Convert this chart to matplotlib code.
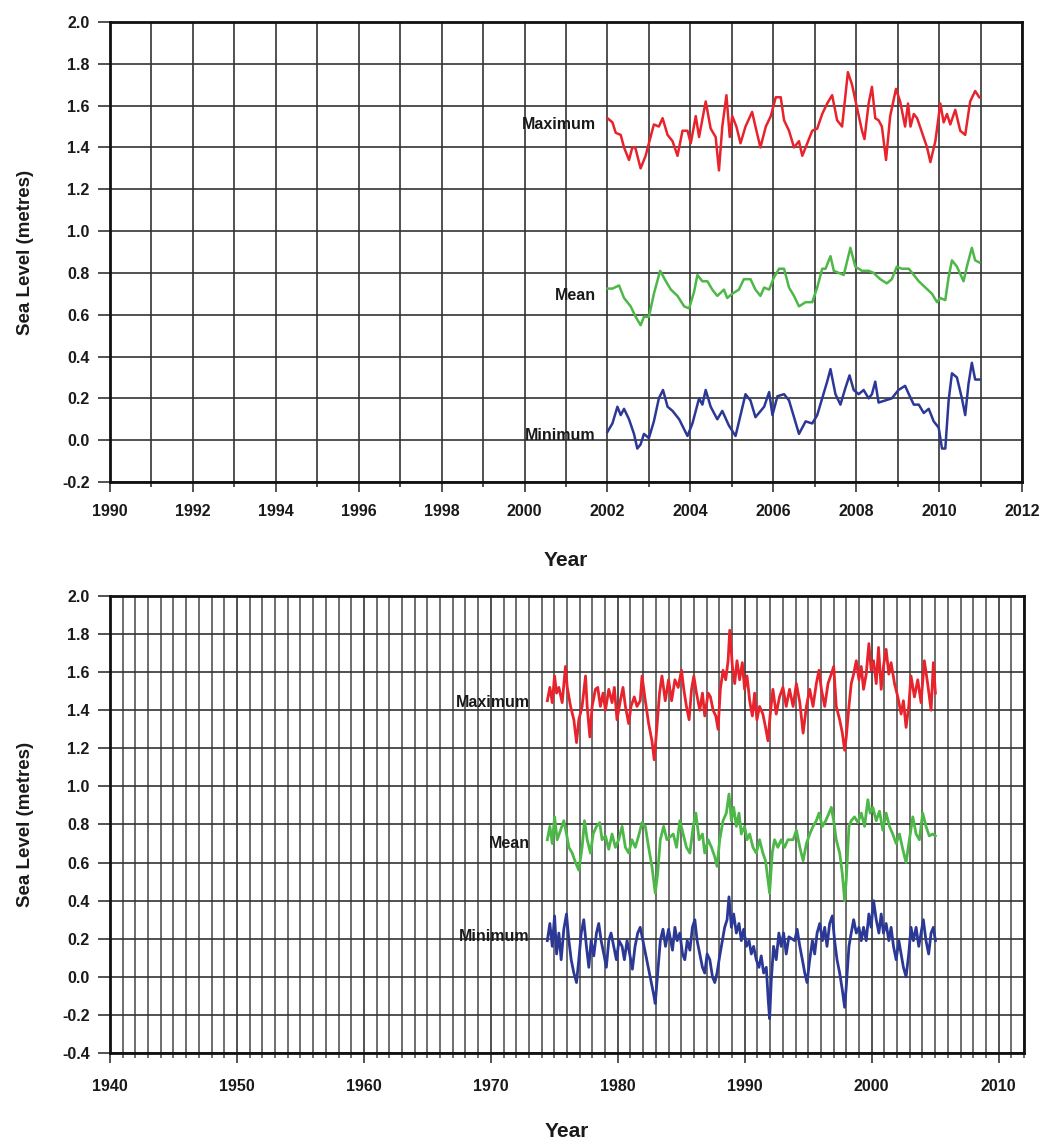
import matplotlib
matplotlib.use("Agg")
import matplotlib.pyplot as plt
from matplotlib.ticker import MultipleLocator

plt.rcParams['font.family'] = ['Liberation Sans', 'DejaVu Sans']

# ---------------- Top panel data (2002-2011) ----------------
top_max_t = [2002.00, 2002.12, 2002.20, 2002.32, 2002.40, 2002.52, 2002.60, 2002.67, 2002.80, 2002.92,
             2003.00, 2003.12, 2003.24, 2003.33, 2003.45, 2003.57, 2003.69, 2003.81, 2003.93, 2004.01,
             2004.13, 2004.21, 2004.37, 2004.49, 2004.61, 2004.69, 2004.77, 2004.87, 2004.95, 2005.01,
             2005.11, 2005.21, 2005.33, 2005.49, 2005.57, 2005.69, 2005.82, 2005.94, 2006.06, 2006.18,
             2006.26, 2006.38, 2006.50, 2006.62, 2006.70, 2006.82, 2006.94, 2007.06, 2007.18, 2007.30,
             2007.42, 2007.54, 2007.66, 2007.80, 2007.90, 2008.02, 2008.14, 2008.20, 2008.30, 2008.38,
             2008.46, 2008.54, 2008.62, 2008.72, 2008.82, 2008.96, 2009.06, 2009.18, 2009.25, 2009.31,
             2009.39, 2009.47, 2009.59, 2009.71, 2009.79, 2009.91, 2010.03, 2010.11, 2010.19, 2010.27,
             2010.39, 2010.51, 2010.63, 2010.75, 2010.87, 2010.97]
top_max_v = [1.54, 1.52, 1.47, 1.46, 1.40, 1.34, 1.40, 1.40, 1.30, 1.36,
             1.42, 1.51, 1.50, 1.54, 1.46, 1.43, 1.36, 1.48, 1.48, 1.42,
             1.55, 1.45, 1.62, 1.49, 1.45, 1.29, 1.50, 1.65, 1.45, 1.55,
             1.50, 1.42, 1.50, 1.57, 1.50, 1.40, 1.50, 1.55, 1.64, 1.64,
             1.53, 1.48, 1.40, 1.43, 1.36, 1.42, 1.48, 1.49, 1.56, 1.61,
             1.65, 1.53, 1.50, 1.76, 1.70, 1.59, 1.48, 1.44, 1.61, 1.69,
             1.54, 1.53, 1.50, 1.34, 1.55, 1.68, 1.62, 1.50, 1.61, 1.50,
             1.56, 1.54, 1.47, 1.40, 1.33, 1.43, 1.61, 1.52, 1.56, 1.51,
             1.58, 1.48, 1.46, 1.62, 1.67, 1.64]

top_mean_t = [2002.00, 2002.12, 2002.28, 2002.40, 2002.56, 2002.68, 2002.80, 2002.88, 2003.00, 2003.12,
              2003.27, 2003.41, 2003.53, 2003.69, 2003.85, 2003.97, 2004.09, 2004.17, 2004.29, 2004.41,
              2004.53, 2004.65, 2004.81, 2004.89, 2005.01, 2005.17, 2005.29, 2005.45, 2005.57, 2005.69,
              2005.78, 2005.90, 2006.02, 2006.14, 2006.26, 2006.38, 2006.50, 2006.62, 2006.78, 2006.94,
              2007.06, 2007.18, 2007.26, 2007.38, 2007.46, 2007.58, 2007.70, 2007.86, 2007.98, 2008.14,
              2008.30, 2008.42, 2008.58, 2008.74, 2008.86, 2008.98, 2009.10, 2009.27, 2009.39, 2009.51,
              2009.67, 2009.83, 2009.95, 2010.03, 2010.15, 2010.23, 2010.31, 2010.43, 2010.59, 2010.67,
              2010.79, 2010.87, 2010.97]
top_mean_v = [0.725, 0.725, 0.74, 0.68, 0.64, 0.59, 0.55, 0.59, 0.59, 0.70,
              0.81, 0.76, 0.72, 0.69, 0.64, 0.63, 0.71, 0.79, 0.76, 0.76,
              0.72, 0.69, 0.72, 0.68, 0.70, 0.72, 0.77, 0.77, 0.72, 0.69,
              0.73, 0.72, 0.78, 0.82, 0.82, 0.73, 0.69, 0.64, 0.66, 0.66,
              0.73, 0.82, 0.82, 0.88, 0.81, 0.80, 0.79, 0.92, 0.83, 0.81,
              0.81, 0.80, 0.77, 0.75, 0.77, 0.83, 0.82, 0.82, 0.79, 0.76,
              0.73, 0.70, 0.66, 0.68, 0.67, 0.78, 0.86, 0.83, 0.76, 0.83,
              0.92, 0.86, 0.85]

top_min_t = [2002.00, 2002.12, 2002.24, 2002.32, 2002.40, 2002.52, 2002.64, 2002.72, 2002.80, 2002.88,
             2003.00, 2003.12, 2003.24, 2003.34, 2003.45, 2003.57, 2003.73, 2003.93, 2004.05, 2004.21,
             2004.29, 2004.37, 2004.49, 2004.65, 2004.77, 2004.93, 2005.09, 2005.21, 2005.33, 2005.45,
             2005.57, 2005.78, 2005.90, 2005.98, 2006.10, 2006.26, 2006.38, 2006.50, 2006.62, 2006.78,
             2006.94, 2007.06, 2007.18, 2007.30, 2007.38, 2007.50, 2007.62, 2007.74, 2007.84, 2007.94,
             2008.06, 2008.18, 2008.30, 2008.38, 2008.46, 2008.54, 2008.70, 2008.86, 2009.02, 2009.18,
             2009.27, 2009.39, 2009.51, 2009.63, 2009.75, 2009.87, 2009.99, 2010.07, 2010.15, 2010.23,
             2010.31, 2010.43, 2010.55, 2010.63, 2010.71, 2010.79, 2010.87, 2010.97]
top_min_v = [0.04, 0.08, 0.16, 0.12, 0.15, 0.10, 0.03, -0.04, -0.02, 0.03,
             0.01, 0.09, 0.20, 0.24, 0.16, 0.14, 0.10, 0.02, 0.08, 0.20,
             0.17, 0.24, 0.16, 0.10, 0.14, 0.07, 0.02, 0.12, 0.22, 0.19,
             0.11, 0.16, 0.23, 0.12, 0.21, 0.22, 0.19, 0.11, 0.03, 0.09,
             0.08, 0.12, 0.20, 0.28, 0.34, 0.22, 0.17, 0.25, 0.31, 0.24,
             0.22, 0.24, 0.20, 0.22, 0.28, 0.18, 0.19, 0.20, 0.24, 0.26,
             0.22, 0.17, 0.17, 0.13, 0.15, 0.09, 0.06, -0.04, -0.04, 0.19,
             0.32, 0.30, 0.20, 0.12, 0.27, 0.37, 0.29, 0.29]

# ---------------- Bottom panel data (1974-2005) ----------------
bot_max_t = [1974.45, 1974.65, 1974.84, 1975.02, 1975.18, 1975.36, 1975.62, 1975.88, 1976.02, 1976.28,
             1976.54, 1976.75, 1976.93, 1977.19, 1977.46, 1977.59, 1977.80, 1977.98, 1978.24, 1978.42,
             1978.63, 1978.84, 1979.03, 1979.29, 1979.55, 1979.73, 1979.94, 1980.20, 1980.41, 1980.60,
             1980.86, 1981.04, 1981.30, 1981.51, 1981.77, 1981.91, 1982.17, 1982.43, 1982.69, 1982.87,
             1983.08, 1983.29, 1983.48, 1983.74, 1984.00, 1984.24, 1984.50, 1984.76, 1985.02, 1985.20,
             1985.41, 1985.62, 1985.81, 1985.99, 1986.20, 1986.46, 1986.67, 1986.85, 1987.12, 1987.30,
             1987.51, 1987.72, 1987.90, 1988.08, 1988.29, 1988.50, 1988.69, 1988.82, 1989.03, 1989.21,
             1989.39, 1989.60, 1989.81, 1989.99, 1990.18, 1990.39, 1990.60, 1990.78, 1990.96, 1991.17,
             1991.43, 1991.64, 1991.83, 1992.01, 1992.22, 1992.48, 1992.74, 1993.01, 1993.27, 1993.53,
             1993.81, 1994.07, 1994.34, 1994.60, 1994.86, 1995.12, 1995.38, 1995.64, 1995.85, 1996.04,
             1996.30, 1996.56, 1996.82, 1997.01, 1997.21, 1997.48, 1997.69, 1997.87, 1998.00, 1998.21,
             1998.39, 1998.58, 1998.79, 1999.00, 1999.18, 1999.36, 1999.57, 1999.78, 1999.96, 2000.15,
             2000.36, 2000.54, 2000.75, 2000.93, 2001.14, 2001.35, 2001.53, 2001.80, 2002.06, 2002.32,
             2002.50, 2002.71, 2002.92, 2003.10, 2003.37, 2003.63, 2003.89, 2004.15, 2004.41, 2004.68,
             2004.86, 2005.02]
bot_max_v = [1.45, 1.52, 1.44, 1.58, 1.49, 1.52, 1.44, 1.63, 1.52, 1.42,
             1.35, 1.23, 1.35, 1.42, 1.58, 1.42, 1.26, 1.42, 1.51, 1.52,
             1.42, 1.49, 1.40, 1.51, 1.44, 1.52, 1.35, 1.45, 1.52, 1.42,
             1.33, 1.42, 1.47, 1.42, 1.45, 1.58, 1.45, 1.33, 1.24, 1.14,
             1.31, 1.49, 1.58, 1.45, 1.56, 1.45, 1.56, 1.52, 1.61, 1.51,
             1.42, 1.35, 1.51, 1.58, 1.49, 1.40, 1.49, 1.37, 1.49, 1.47,
             1.40, 1.37, 1.30, 1.51, 1.61, 1.56, 1.66, 1.82, 1.63, 1.54,
             1.66, 1.56, 1.65, 1.51, 1.58, 1.45, 1.37, 1.49, 1.35, 1.42,
             1.38, 1.31, 1.24, 1.38, 1.51, 1.38, 1.47, 1.52, 1.42, 1.51,
             1.42, 1.54, 1.44, 1.28, 1.42, 1.51, 1.42, 1.54, 1.61, 1.51,
             1.42, 1.54, 1.59, 1.63, 1.42, 1.35, 1.28, 1.19, 1.26, 1.42,
             1.54, 1.59, 1.66, 1.56, 1.63, 1.51, 1.59, 1.75, 1.61, 1.66,
             1.54, 1.73, 1.51, 1.63, 1.72, 1.59, 1.65, 1.54, 1.47, 1.38,
             1.45, 1.31, 1.42, 1.58, 1.47, 1.56, 1.44, 1.66, 1.54, 1.40,
             1.65, 1.49]

bot_mean_t = [1974.45, 1974.65, 1974.84, 1975.02, 1975.23, 1975.49, 1975.75, 1975.96, 1976.15, 1976.41,
              1976.67, 1976.93, 1977.19, 1977.38, 1977.59, 1977.85, 1978.06, 1978.32, 1978.58, 1978.76,
              1979.03, 1979.29, 1979.55, 1979.81, 1980.07, 1980.34, 1980.60, 1980.86, 1981.12, 1981.38,
              1981.64, 1981.91, 1982.17, 1982.43, 1982.69, 1982.95, 1983.14, 1983.35, 1983.61, 1983.87,
              1984.37, 1984.63, 1984.89, 1985.15, 1985.41, 1985.68, 1985.94, 1986.15, 1986.41, 1986.67,
              1986.85, 1987.12, 1987.38, 1987.64, 1987.82, 1988.03, 1988.29, 1988.55, 1988.76, 1988.95,
              1989.13, 1989.34, 1989.55, 1989.73, 1989.99, 1990.18, 1990.39, 1990.65, 1990.91, 1991.17,
              1991.43, 1991.64, 1991.83, 1991.96, 1992.17, 1992.35, 1992.61, 1992.87, 1993.14, 1993.40,
              1993.81, 1994.07, 1994.34, 1994.60, 1994.86, 1995.12, 1995.38, 1995.64, 1995.85, 1996.12,
              1996.38, 1996.64, 1996.82, 1997.01, 1997.21, 1997.48, 1997.69, 1997.87, 1998.00, 1998.21,
              1998.39, 1998.65, 1998.92, 1999.18, 1999.44, 1999.70, 1999.88, 2000.09, 2000.36, 2000.62,
              2000.88, 2001.14, 2001.40, 2001.66, 2001.93, 2002.19, 2002.45, 2002.71, 2002.97, 2003.24,
              2003.50, 2003.76, 2004.02, 2004.28, 2004.54, 2004.81, 2005.02]
bot_mean_v = [0.72, 0.79, 0.70, 0.84, 0.72, 0.77, 0.82, 0.75, 0.68, 0.65,
              0.60, 0.56, 0.68, 0.82, 0.72, 0.65, 0.75, 0.79, 0.81, 0.72,
              0.74, 0.67, 0.75, 0.68, 0.72, 0.79, 0.68, 0.65, 0.72, 0.68,
              0.74, 0.81, 0.79, 0.68, 0.58, 0.44, 0.54, 0.72, 0.79, 0.72,
              0.75, 0.68, 0.82, 0.75, 0.68, 0.65, 0.79, 0.86, 0.72, 0.75,
              0.65, 0.72, 0.68, 0.63, 0.58, 0.72, 0.82, 0.86, 0.96, 0.82,
              0.89, 0.79, 0.86, 0.75, 0.79, 0.72, 0.75, 0.68, 0.65, 0.72,
              0.65, 0.61, 0.51, 0.44, 0.65, 0.72, 0.68, 0.72, 0.68, 0.72,
              0.72, 0.77, 0.68, 0.61, 0.70, 0.75, 0.79, 0.82, 0.86, 0.79,
              0.82, 0.86, 0.89, 0.82, 0.72, 0.65, 0.54, 0.40, 0.51, 0.79,
              0.82, 0.84, 0.81, 0.86, 0.79, 0.93, 0.86, 0.89, 0.82, 0.87,
              0.77, 0.86, 0.79, 0.75, 0.70, 0.75, 0.67, 0.60, 0.72, 0.84,
              0.75, 0.72, 0.86, 0.79, 0.74, 0.75, 0.74]

bot_min_t = [1974.45, 1974.65, 1974.84, 1975.02, 1975.18, 1975.36, 1975.54, 1975.75, 1975.96, 1976.15,
             1976.33, 1976.54, 1976.75, 1976.93, 1977.12, 1977.32, 1977.53, 1977.72, 1977.90, 1978.11,
             1978.32, 1978.50, 1978.69, 1978.90, 1979.10, 1979.29, 1979.47, 1979.68, 1979.89, 1980.10,
             1980.34, 1980.52, 1980.73, 1980.94, 1981.15, 1981.36, 1981.57, 1981.77, 1981.98, 1982.19,
             1982.40, 1982.61, 1982.82, 1982.95, 1983.14, 1983.35, 1983.56, 1983.76, 1984.00, 1984.31,
             1984.50, 1984.68, 1984.89, 1985.10, 1985.28, 1985.47, 1985.68, 1985.88, 1986.07, 1986.25,
             1986.46, 1986.67, 1986.85, 1987.04, 1987.25, 1987.46, 1987.64, 1987.82, 1988.03, 1988.24,
             1988.42, 1988.61, 1988.76, 1988.95, 1989.13, 1989.34, 1989.55, 1989.73, 1989.92, 1990.13,
             1990.34, 1990.52, 1990.70, 1990.91, 1991.12, 1991.30, 1991.49, 1991.70, 1991.85, 1991.96,
             1992.09, 1992.27, 1992.48, 1992.69, 1992.87, 1993.06, 1993.27, 1993.48, 1993.94, 1994.13,
             1994.34, 1994.54, 1994.73, 1994.91, 1995.12, 1995.33, 1995.51, 1995.70, 1995.91, 1996.12,
             1996.30, 1996.48, 1996.69, 1996.90, 1997.08, 1997.27, 1997.48, 1997.69, 1997.87, 1998.00,
             1998.21, 1998.39, 1998.58, 1998.79, 1999.00, 1999.18, 1999.36, 1999.57, 1999.78, 1999.96,
             2000.15, 2000.36, 2000.57, 2000.75, 2000.93, 2001.14, 2001.35, 2001.53, 2001.72, 2001.93,
             2002.14, 2002.32, 2002.50, 2002.71, 2002.92, 2003.10, 2003.29, 2003.50, 2003.71, 2003.89,
             2004.07, 2004.28, 2004.49, 2004.68, 2004.86, 2005.02]
bot_min_v = [0.19, 0.28, 0.16, 0.32, 0.12, 0.23, 0.09, 0.25, 0.33, 0.19,
             0.09, 0.02, -0.03, 0.09, 0.23, 0.30, 0.16, 0.05, 0.19, 0.11,
             0.23, 0.28, 0.19, 0.12, 0.05, 0.19, 0.23, 0.16, 0.09, 0.19,
             0.16, 0.09, 0.19, 0.12, 0.04, 0.16, 0.23, 0.26, 0.19, 0.12,
             0.05, -0.02, -0.09, -0.14, 0.02, 0.19, 0.25, 0.16, 0.25, 0.14,
             0.26, 0.19, 0.23, 0.12, 0.09, 0.19, 0.14, 0.26, 0.30, 0.19,
             0.12, 0.05, 0.02, 0.12, 0.09, 0.00, -0.03, 0.02, 0.11, 0.19,
             0.26, 0.30, 0.42, 0.26, 0.33, 0.23, 0.28, 0.19, 0.25, 0.16,
             0.19, 0.12, 0.16, 0.09, 0.05, 0.11, 0.02, 0.05, -0.12, -0.22,
             -0.02, 0.16, 0.09, 0.23, 0.16, 0.23, 0.12, 0.21, 0.19, 0.25,
             0.16, 0.09, 0.02, -0.03, 0.09, 0.19, 0.12, 0.23, 0.28, 0.19,
             0.26, 0.16, 0.28, 0.32, 0.19, 0.09, 0.02, -0.07, -0.16, -0.05,
             0.16, 0.23, 0.30, 0.23, 0.26, 0.19, 0.26, 0.19, 0.33, 0.26,
             0.40, 0.30, 0.23, 0.33, 0.23, 0.28, 0.19, 0.26, 0.16, 0.09,
             0.19, 0.12, 0.05, 0.00, 0.12, 0.26, 0.19, 0.26, 0.16, 0.23,
             0.30, 0.19, 0.12, 0.23, 0.26, 0.19]

series_names = ['Maximum', 'Mean', 'Minimum']
series_colors = ['#e8232c', '#4db848', '#2b3896']

top_label_y = [1.51, 0.69, 0.02]
bot_label_y = [1.44, 0.70, 0.21]

W, H = 1045, 1144
fig = plt.figure(figsize=(W / 100, H / 100), dpi=100)

GRID = '#333333'
TXT = '#1a1a1a'


def style_axes(ax, xmin, xmax, ymin, ymax, xmaj, ymaj, xpad, vgrid):
    ax.set_xlim(xmin, xmax)
    ax.set_ylim(ymin, ymax)
    ax.xaxis.set_major_locator(MultipleLocator(xmaj))
    ax.xaxis.set_minor_locator(MultipleLocator(1))
    ax.yaxis.set_major_locator(MultipleLocator(ymaj))
    ax.grid(which='major', axis='x', color=GRID, lw=1.2)
    ax.grid(which='minor', axis='x', color=vgrid, lw=1.2)
    ax.grid(which='major', axis='y', color=GRID, lw=1.2)
    ax.set_axisbelow(True)
    for s in ax.spines.values():
        s.set_linewidth(2.0)
        s.set_color('#111111')
    ax.tick_params(axis='x', which='major', direction='out', length=7, width=1.2,
                   color=GRID, pad=xpad, labelsize=11.5, labelcolor=TXT)
    ax.tick_params(axis='x', which='minor', direction='out', length=3.5, width=1.2, color=vgrid)
    ax.tick_params(axis='y', which='major', direction='out', length=8.5, width=1.2,
                   color=GRID, pad=6, labelsize=11.5, labelcolor=TXT)
    ax.yaxis.set_major_formatter(plt.FuncFormatter(lambda v, p: f"{v:.1f}"))
    for lab in ax.get_xticklabels() + ax.get_yticklabels():
        lab.set_fontweight('bold')
    ax.set_xlabel('Year', fontsize=15, fontweight='bold', color=TXT)
    ax.set_ylabel('Sea Level (metres)', fontsize=13.5, fontweight='bold', color=TXT)


# Top axes: pixels x 110..1022, y 22..482
ax1 = fig.add_axes([110 / W, 1 - 482 / H, 912 / W, 460 / H])
style_axes(ax1, 1990, 2012, -0.2, 2.0, 2, 0.2, 8.5, GRID)
ax1.xaxis.set_label_coords(0.5, -0.150)
ax1.yaxis.set_label_coords(-0.083, 0.5)
for t, v, c in [(top_max_t, top_max_v, series_colors[0]),
                (top_mean_t, top_mean_v, series_colors[1]),
                (top_min_t, top_min_v, series_colors[2])]:
    ax1.plot(t, v, color=c, lw=1.8, solid_joinstyle='round')
for name, y in zip(series_names, top_label_y):
    ax1.text(2001.72, y, name, ha='right', va='center', fontsize=11.5,
             fontweight='bold', color=TXT)

# Bottom axes: pixels x 110..1024, y 596..1053
ax2 = fig.add_axes([110 / W, 1 - 1053 / H, 914 / W, 457 / H])
style_axes(ax2, 1940, 2012, -0.4, 2.0, 10, 0.2, 11.5, '#555555')
ax2.xaxis.set_label_coords(0.5, -0.151)
ax2.yaxis.set_label_coords(-0.083, 0.5)
for t, v, c in [(bot_max_t, bot_max_v, series_colors[0]),
                (bot_mean_t, bot_mean_v, series_colors[1]),
                (bot_min_t, bot_min_v, series_colors[2])]:
    ax2.plot(t, v, color=c, lw=2.0, solid_joinstyle='round')
for name, y in zip(series_names, bot_label_y):
    ax2.text(1973.05, y, name, ha='right', va='center', fontsize=11.5,
             fontweight='bold', color=TXT)

fig.savefig('out.png', dpi=100, facecolor='white')
